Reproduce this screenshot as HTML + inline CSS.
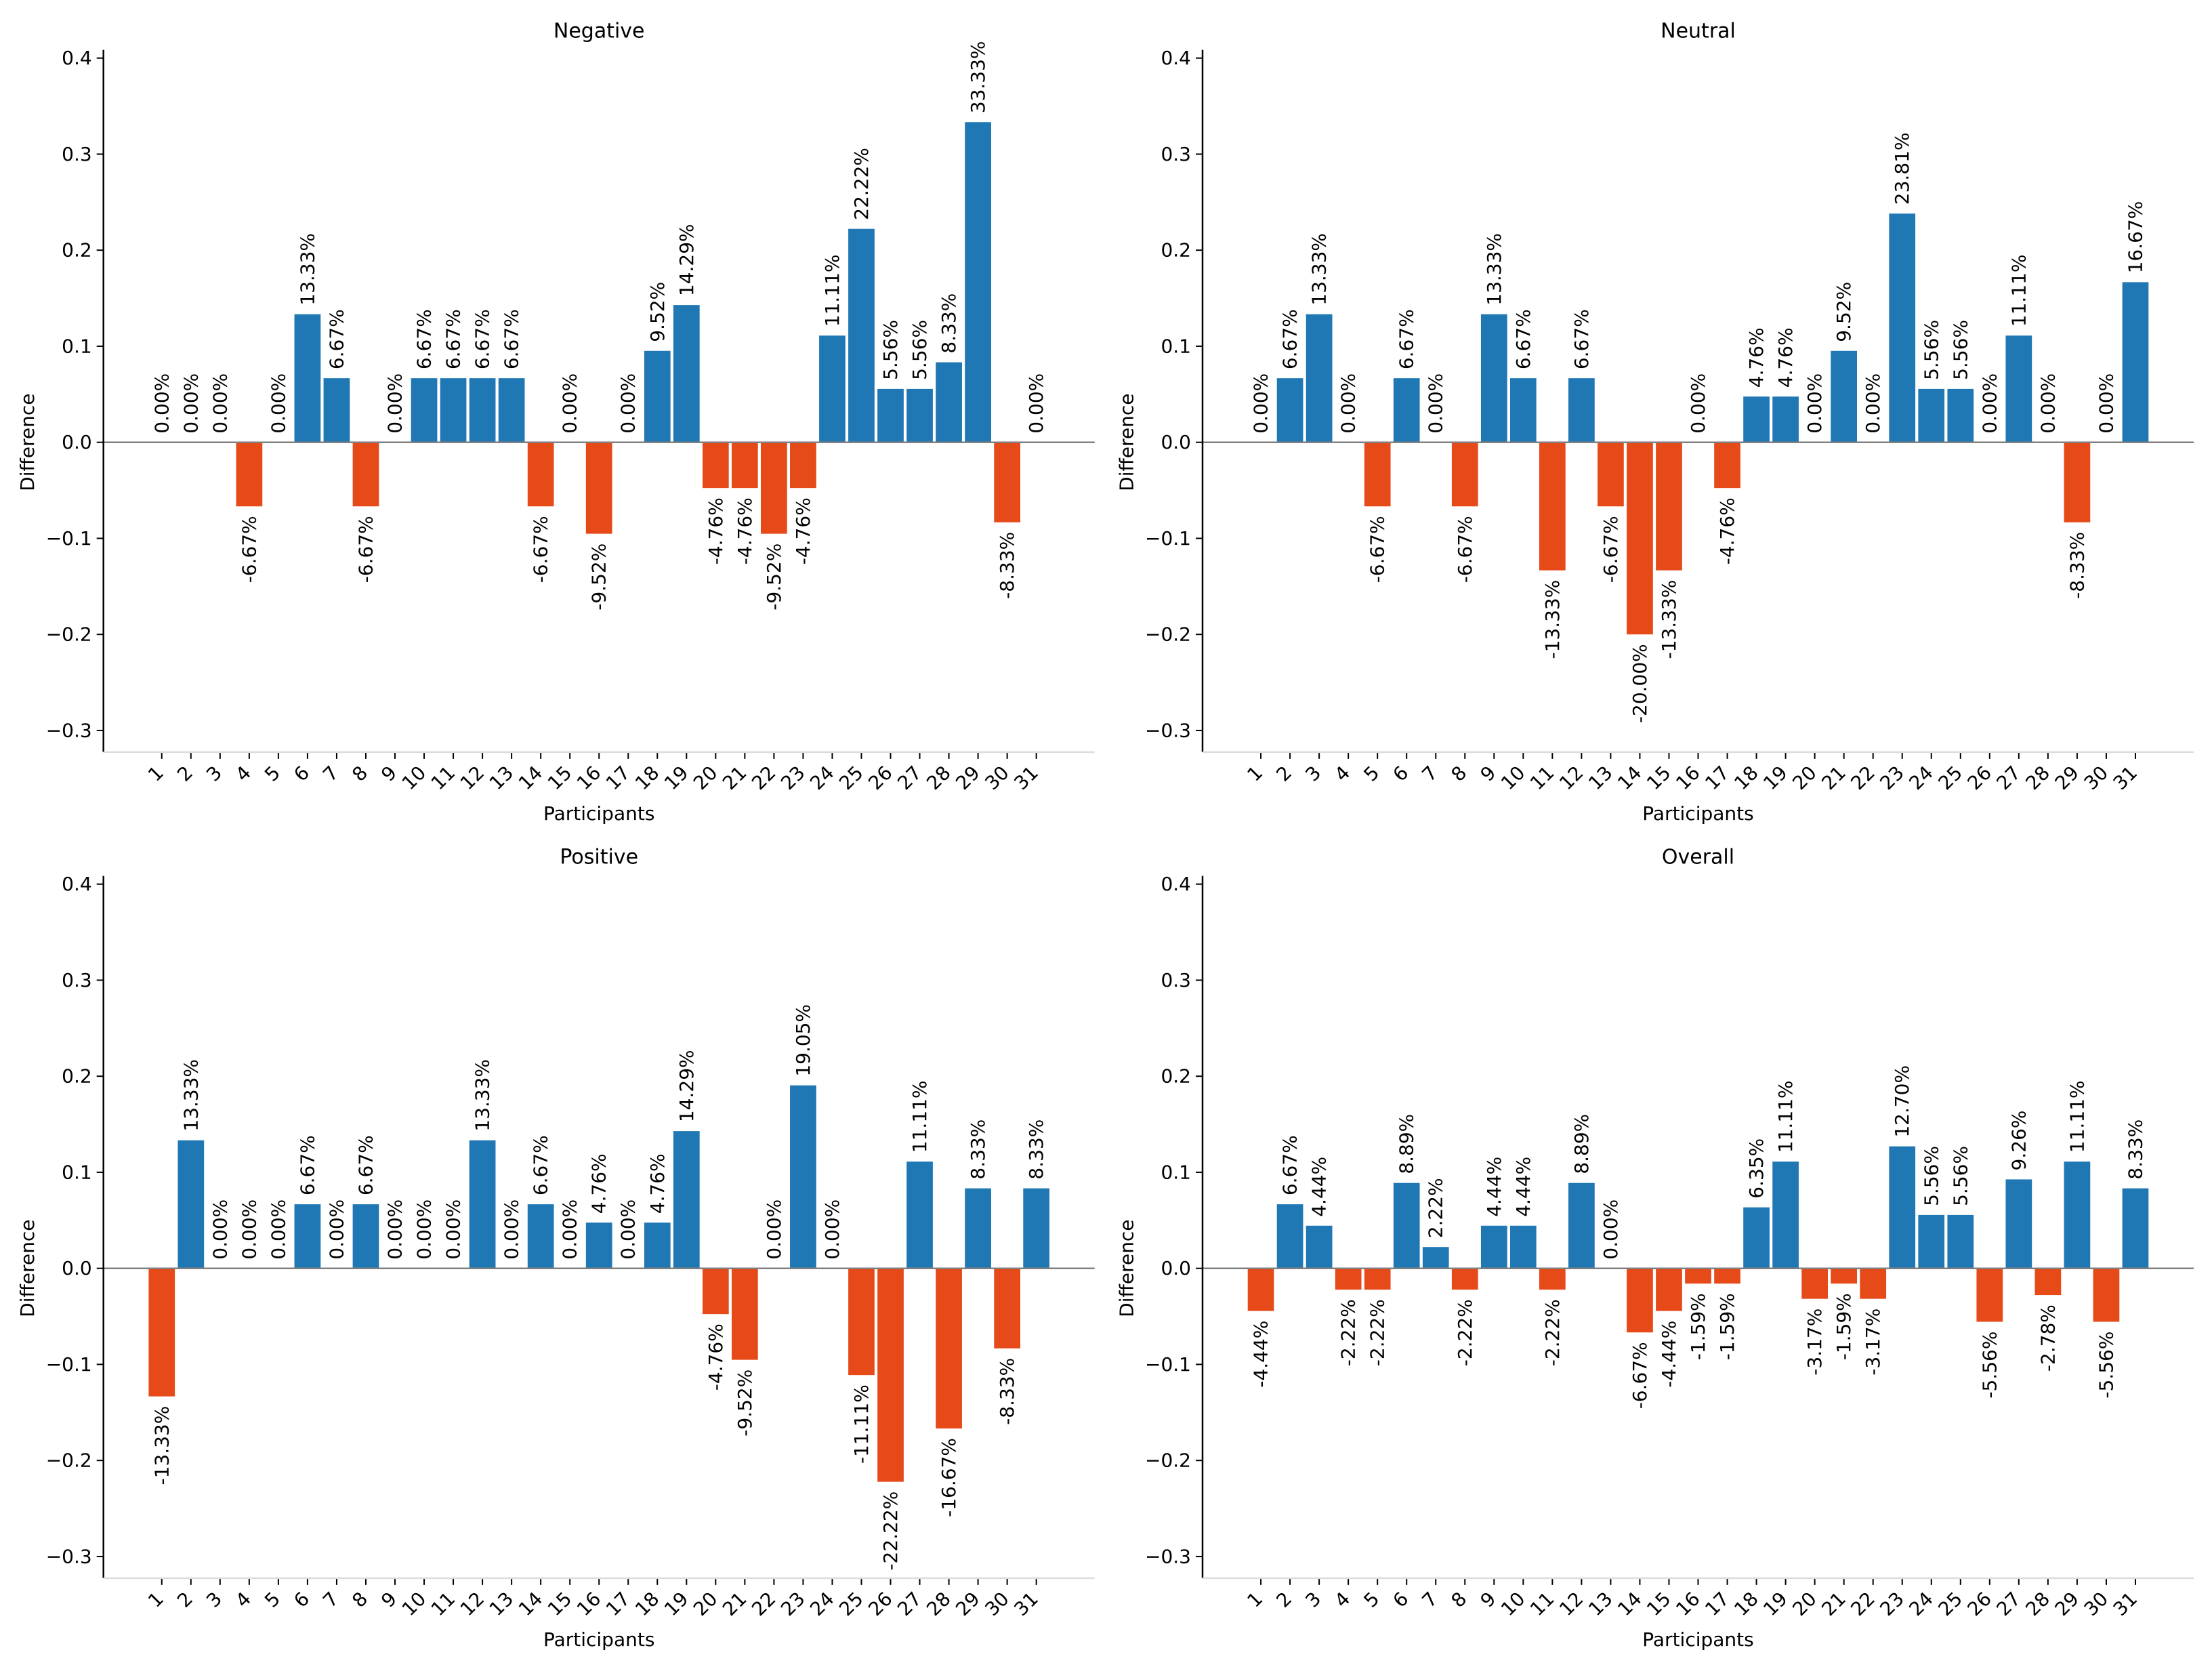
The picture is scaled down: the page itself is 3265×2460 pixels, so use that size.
<!DOCTYPE html>
<html><head><meta charset="utf-8">
<style>
html,body{margin:0;padding:0;background:#fff;}
svg{display:block;font-family:"DejaVu Sans","Liberation Sans",sans-serif;}
</style></head>
<body>
<svg id="chart" xmlns="http://www.w3.org/2000/svg" width="3265" height="2460" viewBox="0 0 3265 2460">
<rect width="3265" height="2460" fill="#fff"/>
</svg>
<script>
const participants = ["1","2","3","4","5","6","7","8","9","10","11","12","13","14","15","16","17","18","19","20","21","22","23","24","25","26","27","28","29","30","31"];
const panelTitles = ["Negative","Neutral","Positive","Overall"];
const negativeValues = [0,0,0,-6.67,0,13.33,6.67,-6.67,0,6.67,6.67,6.67,6.67,-6.67,0,-9.52,0,9.52,14.29,-4.76,-4.76,-9.52,-4.76,11.11,22.22,5.56,5.56,8.33,33.33,-8.33,0];
const neutralValues = [0,6.67,13.33,0,-6.67,6.67,0,-6.67,13.33,6.67,-13.33,6.67,-6.67,-20.00,-13.33,0,-4.76,4.76,4.76,0,9.52,0,23.81,5.56,5.56,0,11.11,0,-8.33,0,16.67];
const positiveValues = [-13.33,13.33,0,0,0,6.67,0,6.67,0,0,0,13.33,0,6.67,0,4.76,0,4.76,14.29,-4.76,-9.52,0,19.05,0,-11.11,-22.22,11.11,-16.67,8.33,-8.33,8.33];
const overallValues = [-4.44,6.67,4.44,-2.22,-2.22,8.89,2.22,-2.22,4.44,4.44,-2.22,8.89,0,-6.67,-4.44,-1.59,-1.59,6.35,11.11,-3.17,-1.59,-3.17,12.70,5.56,5.56,-5.56,9.26,-2.78,11.11,-5.56,8.33];
const yTicks = [0.4,0.3,0.2,0.1,0.0,-0.1,-0.2,-0.3];

const seriesList = [negativeValues, neutralValues, positiveValues, overallValues];
const svg = document.getElementById('chart');
const NS = 'http://www.w3.org/2000/svg';
function el(tag, attrs, parent){
  const e = document.createElementNS(NS, tag);
  for (const k in attrs) e.setAttribute(k, attrs[k]);
  (parent||svg).appendChild(e);
  return e;
}
const PX_PER_UNIT = 1417.5;
const YMAX = 0.4085, YMIN = -0.3225;
const BAR_STEP = 43.03;
const panelOrigins = [[152.7, 652.7],[1775, 652.7],[152.7, 1871.7],[1775, 1871.7]];

seriesList.forEach((vals, p) => {
  const [ax, zy] = panelOrigins[p];
  const g = el('g', {});
  
  
  const n = participants.length;
  const xOf = i => ax + (i + 2) * BAR_STEP;
  const yOf = v => zy - v * PX_PER_UNIT;
  const axRight = ax + (n + 3) * BAR_STEP;
  const yTop = yOf(YMAX), yBot = yOf(YMIN);

  const t = el('text', {x:(ax+axRight)/2, y:yOf(YMAX)-18, 'text-anchor':'middle', 'font-size':30, fill:'#000'}, g);
  t.textContent = panelTitles[p];
  
  

  yTicks.forEach(v => {
    const y = yOf(v);
    const tk = el('line', {x1:ax-10, x2:ax, y1:y, y2:y, stroke:'#000', 'stroke-width':2}, g);
    
    
    const tl = el('text', {x:ax-17, y:y, 'text-anchor':'end', 'dominant-baseline':'central', 'font-size':28, fill:'#000'}, g);
    tl.textContent = v.toFixed(1).replace('-', '\u2212');
    
    
  });

  const yl = el('text', {x:0, y:0, transform:`translate(${ax-112},${zy}) rotate(-90)`, 'text-anchor':'middle', 'dominant-baseline':'central', 'font-size':28, fill:'#000'}, g);
  yl.textContent = 'Difference';
  
  

  vals.forEach((v, i) => {
    const cx = xOf(i);
    const w = BAR_STEP * 0.9;
    const y0 = yOf(Math.max(v/100, 0)), y1 = yOf(Math.min(v/100, 0));
    if (v !== 0) {
      const r = el('rect', {x:cx-w/2, y:y0, width:w, height:y1-y0, fill: v > 0 ? '#1f77b4' : '#e64a19'}, g);
      
      
    }
    const lbl = el('text', {}, g);
    if (v >= 0) {
      lbl.setAttribute('transform', `translate(${cx},${yOf(v/100)-13}) rotate(-90)`);
      lbl.setAttribute('text-anchor', 'start');
    } else {
      lbl.setAttribute('transform', `translate(${cx},${yOf(v/100)+14}) rotate(-90)`);
      lbl.setAttribute('text-anchor', 'end');
    }
    lbl.setAttribute('dominant-baseline', 'central');
    lbl.setAttribute('font-size', '28');
    lbl.setAttribute('fill', '#000');
    lbl.textContent = v.toFixed(2) + '%';
    
    

    const xt = el('line', {x1:cx, x2:cx, y1:yBot, y2:yBot+10, stroke:'#000', 'stroke-width':2}, g);
    
    
    const xl = el('text', {transform:`translate(${cx-10},${yBot+18}) rotate(-45)`, 'text-anchor':'end', dy:'0.72em', 'font-size':28, fill:'#000'}, g);
    xl.textContent = participants[i];
    
    
  });

  const zl = el('line', {x1:ax, x2:axRight, y1:zy, y2:zy, stroke:'#808080', 'stroke-width':2.5}, g);
  
  
  const ls = el('line', {x1:ax, x2:ax, y1:yTop, y2:yBot, stroke:'#000', 'stroke-width':2.5}, g);
  
  
  const bs = el('line', {x1:ax, x2:axRight, y1:yBot, y2:yBot, stroke:'#dcdcdc', 'stroke-width':2.5}, g);
  
  

  const xtl = el('text', {x:(ax+axRight)/2, y:zy+548, 'text-anchor':'middle', 'dominant-baseline':'central', 'font-size':28, fill:'#000'}, g);
  xtl.textContent = 'Participants';
  
  
});
</script>
</body></html>
